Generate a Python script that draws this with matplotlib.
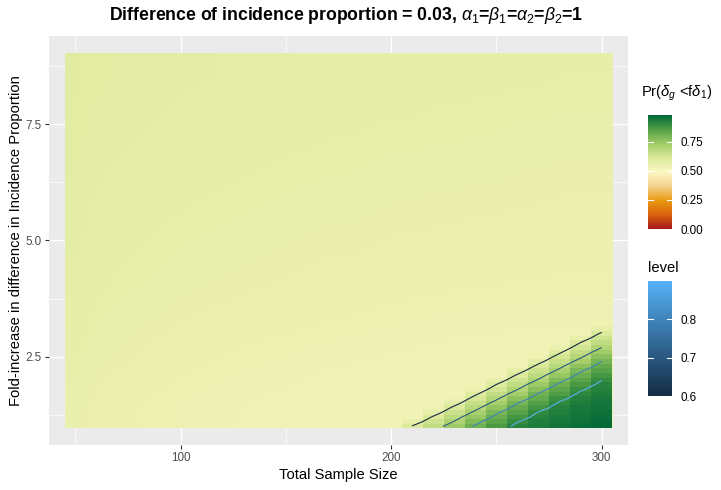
import numpy as np
import matplotlib
matplotlib.use('Agg')
import matplotlib.pyplot as plt
import matplotlib.cm as cm
from matplotlib.colors import LinearSegmentedColormap, Normalize

plt.rcParams['font.family'] = ['Liberation Sans', 'DejaVu Sans']
plt.rcParams['mathtext.fontset'] = 'custom'
plt.rcParams['mathtext.rm'] = 'Liberation Sans'
plt.rcParams['mathtext.it'] = 'Liberation Sans:italic'
plt.rcParams['mathtext.bf'] = 'Liberation Sans:bold'

# ---- data ----
# total sample size (tile columns)
sample_size = [50, 60, 70, 80, 90, 100, 110, 120, 130, 140, 150, 160, 170,
               180, 190, 200, 210, 220, 230, 240, 250, 260, 270, 280, 290, 300]
# coarse fold rows for the pale background part
fold_coarse = [1, 2, 3, 4, 5, 6, 7, 8, 9]
prob_coarse = [
    [0.556, 0.549, 0.546, 0.544, 0.542, 0.540, 0.538, 0.537, 0.535, 0.533, 0.532, 0.530, 0.529, 0.528, 0.527, 0.526, 0.525, 0.524, 0.523, 0.522, 0.523, 0.525, 0.527, 0.528, 0.529, 0.530],
    [0.562, 0.555, 0.552, 0.550, 0.548, 0.546, 0.544, 0.543, 0.541, 0.540, 0.539, 0.537, 0.536, 0.535, 0.534, 0.533, 0.532, 0.531, 0.530, 0.529, 0.529, 0.530, 0.531, 0.532, 0.532, 0.533],
    [0.567, 0.560, 0.557, 0.555, 0.553, 0.551, 0.550, 0.549, 0.548, 0.547, 0.546, 0.545, 0.544, 0.543, 0.542, 0.541, 0.540, 0.539, 0.538, 0.537, 0.537, 0.536, 0.536, 0.536, 0.536, 0.536],
    [0.572, 0.565, 0.562, 0.560, 0.558, 0.556, 0.555, 0.554, 0.553, 0.552, 0.551, 0.550, 0.549, 0.549, 0.548, 0.547, 0.547, 0.546, 0.546, 0.545, 0.545, 0.544, 0.544, 0.543, 0.543, 0.543],
    [0.576, 0.569, 0.566, 0.564, 0.562, 0.560, 0.559, 0.558, 0.557, 0.556, 0.555, 0.554, 0.553, 0.553, 0.552, 0.551, 0.551, 0.550, 0.550, 0.549, 0.549, 0.548, 0.548, 0.547, 0.547, 0.547],
    [0.580, 0.573, 0.570, 0.568, 0.566, 0.564, 0.563, 0.562, 0.561, 0.560, 0.559, 0.558, 0.557, 0.557, 0.556, 0.555, 0.555, 0.554, 0.554, 0.553, 0.553, 0.552, 0.552, 0.551, 0.551, 0.551],
    [0.584, 0.577, 0.574, 0.572, 0.570, 0.568, 0.567, 0.566, 0.565, 0.564, 0.563, 0.562, 0.561, 0.561, 0.560, 0.559, 0.559, 0.558, 0.558, 0.557, 0.557, 0.556, 0.556, 0.555, 0.555, 0.555],
    [0.588, 0.581, 0.578, 0.576, 0.574, 0.572, 0.571, 0.570, 0.569, 0.568, 0.567, 0.566, 0.565, 0.565, 0.564, 0.563, 0.563, 0.562, 0.562, 0.561, 0.561, 0.560, 0.560, 0.559, 0.559, 0.559],
    [0.592, 0.585, 0.582, 0.580, 0.578, 0.576, 0.575, 0.574, 0.573, 0.572, 0.571, 0.570, 0.569, 0.569, 0.568, 0.567, 0.567, 0.566, 0.566, 0.565, 0.565, 0.564, 0.564, 0.563, 0.563, 0.563],
]

# finer rows in the green corner (lower right)
size_fine = [210, 220, 230, 240, 250, 260, 270, 280, 290, 300]
fold_fine = [1.0, 1.1, 1.2, 1.3, 1.4, 1.5, 1.6, 1.7, 1.8, 1.9, 2.0, 2.1,
             2.2, 2.3, 2.4, 2.5, 2.6, 2.7, 2.8, 2.9, 3.0, 3.1, 3.2, 3.3]
prob_fine = [
    [0.605, 0.667, 0.738, 0.811, 0.867, 0.915, 0.934, 0.950, 0.962, 0.975],
    [0.565, 0.637, 0.704, 0.781, 0.842, 0.898, 0.927, 0.943, 0.957, 0.969],
    [0.530, 0.608, 0.674, 0.747, 0.817, 0.873, 0.918, 0.936, 0.951, 0.963],
    [0.530, 0.570, 0.645, 0.713, 0.790, 0.849, 0.903, 0.929, 0.945, 0.958],
    [0.530, 0.535, 0.615, 0.682, 0.756, 0.824, 0.879, 0.921, 0.938, 0.953],
    [0.530, 0.530, 0.578, 0.652, 0.722, 0.799, 0.855, 0.907, 0.931, 0.947],
    [0.530, 0.530, 0.545, 0.623, 0.690, 0.764, 0.830, 0.886, 0.923, 0.940],
    [0.530, 0.530, 0.530, 0.590, 0.660, 0.731, 0.805, 0.861, 0.911, 0.932],
    [0.530, 0.530, 0.530, 0.555, 0.630, 0.697, 0.773, 0.837, 0.892, 0.925],
    [0.530, 0.530, 0.530, 0.530, 0.601, 0.668, 0.739, 0.812, 0.868, 0.915],
    [0.530, 0.530, 0.530, 0.530, 0.565, 0.638, 0.705, 0.782, 0.843, 0.898],
    [0.530, 0.530, 0.530, 0.530, 0.530, 0.608, 0.675, 0.748, 0.818, 0.874],
    [0.530, 0.530, 0.530, 0.530, 0.530, 0.572, 0.646, 0.714, 0.791, 0.849],
    [0.530, 0.530, 0.530, 0.530, 0.530, 0.535, 0.616, 0.683, 0.758, 0.824],
    [0.530, 0.530, 0.530, 0.530, 0.530, 0.530, 0.580, 0.653, 0.723, 0.800],
    [0.530, 0.530, 0.530, 0.530, 0.530, 0.530, 0.545, 0.624, 0.690, 0.766],
    [0.530, 0.530, 0.530, 0.530, 0.530, 0.530, 0.530, 0.590, 0.661, 0.732],
    [0.530, 0.530, 0.530, 0.530, 0.530, 0.530, 0.530, 0.557, 0.631, 0.698],
    [0.530, 0.530, 0.530, 0.530, 0.530, 0.530, 0.530, 0.530, 0.602, 0.668],
    [0.530, 0.530, 0.530, 0.530, 0.530, 0.530, 0.530, 0.530, 0.565, 0.639],
    [0.530, 0.530, 0.530, 0.530, 0.530, 0.530, 0.530, 0.530, 0.530, 0.609],
    [0.530, 0.530, 0.530, 0.530, 0.530, 0.530, 0.530, 0.530, 0.530, 0.570],
    [0.530, 0.530, 0.530, 0.530, 0.530, 0.530, 0.530, 0.530, 0.530, 0.535],
    [0.530, 0.530, 0.530, 0.530, 0.530, 0.530, 0.530, 0.530, 0.530, 0.530],
]
contour_levels = [0.6, 0.7, 0.8, 0.9]

# ---- scales ----
fill_cmap = LinearSegmentedColormap.from_list('prfill', [
    (0.00, '#A8161A'), (0.12, '#D8600F'), (0.25, '#E99A10'),
    (0.38, '#F5D492'), (0.50, '#FBF7C3'), (0.62, '#DDEA9C'),
    (0.75, '#A0CC66'), (0.88, '#4E9D45'), (1.00, '#006837')])
fill_norm = Normalize(0, 0.98)
level_cmap = LinearSegmentedColormap.from_list('lvl', ['#132B43', '#56B1F7'])
level_norm = Normalize(0.6, 0.9)

W, H = 721, 490
fig = plt.figure(figsize=(W / 100, H / 100), dpi=100)
ax = fig.add_axes([49 / W, 1 - 445 / H, (628 - 49) / W, (445 - 36) / H])
ax.set_facecolor('#EBEBEB')
ax.set_axisbelow(True)

def edges(c, lo, hi):
    c = np.asarray(c, float)
    mid = (c[:-1] + c[1:]) / 2
    return np.concatenate([[c[0] - lo], mid, [c[-1] + hi]])

# pale background: smooth rendering of the coarse table
x0, x1 = sample_size[0] - 5, sample_size[-1] + 5
ax.imshow(np.array(prob_coarse), cmap=fill_cmap, norm=fill_norm,
          extent=(x0, x1, fold_coarse[0] - 0.025, fold_coarse[-1] + 0.025),
          origin='lower', aspect='auto', interpolation='bilinear', zorder=1)

# green corner: only the cells that rise above the background
Z = np.array(prob_fine)
xf = edges(size_fine, 5, 5)
yf = edges(fold_fine, 0.025, 0.05)
ax.pcolormesh(xf, yf, np.ma.masked_where(Z <= 0.53, Z), cmap=fill_cmap,
              norm=fill_norm, shading='flat', antialiased=False, linewidth=0,
              zorder=2)

ax.contour(size_fine, fold_fine, Z, levels=contour_levels,
           colors=[level_cmap(level_norm(l)) for l in contour_levels],
           linewidths=0.8, zorder=3)

ax.set_xlim(37.5, 312.5)
ax.set_ylim(0.6, 9.4)
ax.set_xticks([100, 200, 300])
ax.set_xticks([50, 150, 250], minor=True)
ax.set_yticks([2.5, 5.0, 7.5])
ax.set_yticklabels(['2.5', '5.0', '7.5'])
ax.set_yticks([1.25, 3.75, 6.25, 8.75], minor=True)
ax.grid(which='major', color='white', linewidth=1.0, zorder=0)
ax.grid(which='minor', color='white', linewidth=0.5, zorder=0)
for s in ax.spines.values():
    s.set_visible(False)
ax.tick_params(which='major', length=2.7, width=0.8, color='#333333',
               labelsize=8.4, labelcolor='#4D4D4D', pad=2.5)
ax.tick_params(which='minor', length=0)
ax.set_xlabel('Total Sample Size', fontsize=10.6, labelpad=3)
ax.set_ylabel('Fold-increase in difference in Incidence Proportion',
              fontsize=10.6, labelpad=2)

fig.text(346 / W, 1 - 15 / H,
         r'Difference of incidence proportion = 0.03, $\alpha_1$=$\beta_1$=$\alpha_2$=$\beta_2$=1',
         ha='center', va='center', fontsize=12.7, fontweight='bold')

# ---- legends ----
cax1 = fig.add_axes([648 / W, 1 - 229 / H, 24 / W, 114 / H])
cb1 = fig.colorbar(cm.ScalarMappable(norm=fill_norm, cmap=fill_cmap), cax=cax1,
                   ticks=[0, 0.25, 0.5, 0.75])
cb1.ax.set_yticklabels(['0.00', '0.25', '0.50', '0.75'])
cb1.outline.set_visible(False)
cax1.tick_params(length=0, labelsize=8.4, pad=6)
for v in [0.25, 0.5, 0.75]:
    cax1.plot([0, 0.2], [v, v], color='white', lw=0.8,
              transform=cax1.get_yaxis_transform())
    cax1.plot([0.8, 1], [v, v], color='white', lw=0.8,
              transform=cax1.get_yaxis_transform())
fig.text(641 / W, 1 - 93 / H, r'Pr($\delta_g$ <f$\delta_1$)', fontsize=10.6,
         ha='left', va='center')

cax2 = fig.add_axes([648 / W, 1 - 396 / H, 24 / W, 115 / H])
cb2 = fig.colorbar(cm.ScalarMappable(norm=level_norm, cmap=level_cmap), cax=cax2,
                   ticks=[0.6, 0.7, 0.8])
cb2.ax.set_yticklabels(['0.6', '0.7', '0.8'])
cb2.outline.set_visible(False)
cax2.tick_params(length=0, labelsize=8.4, pad=6)
for v in [0.7, 0.8]:
    cax2.plot([0, 0.2], [v, v], color='white', lw=0.8,
              transform=cax2.get_yaxis_transform())
    cax2.plot([0.8, 1], [v, v], color='white', lw=0.8,
              transform=cax2.get_yaxis_transform())
fig.text(648 / W, 1 - 268 / H, 'level', fontsize=10.6, ha='left', va='center')

fig.savefig('out.png', dpi=100)
